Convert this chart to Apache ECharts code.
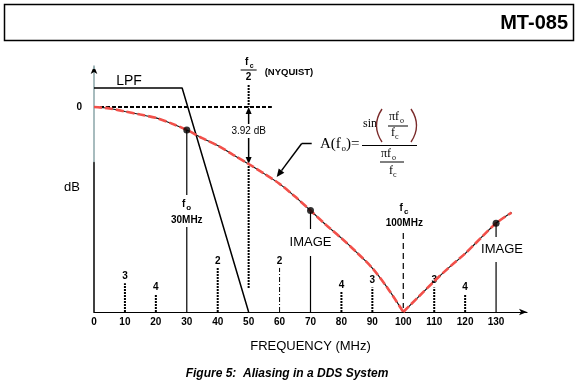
<!DOCTYPE html>
<html><head><meta charset="utf-8">
<script src="https://cdn.jsdelivr.net/npm/echarts@6/dist/echarts.min.js"></script>
<style>html,body{margin:0;padding:0;background:#fff}#c{width:580px;height:387px}</style>
</head><body><div id="c"></div>
<script>
// ---- data ----
const freqTickLabels = ['0','10','20','30','40','50','60','70','80','90','100','110','120','130'];
const curveFreqLeft = [0,5,10,15,20,25,30,35,40,45,50,55,60,65,70,75,80,85,90,95,100];
const curveAmpLeft  = [1.0,0.993,0.978,0.963,0.947,0.92,0.888,0.848,0.812,0.767,0.722,0.675,0.625,0.563,0.495,0.425,0.36,0.29,0.214,0.115,0.0];
const curveFreqRight = [100,105,110,115,120,125,130,135];
const curveAmpRight  = [0.0,0.075,0.15,0.22,0.285,0.36,0.433,0.485];
const lpfFreq = [0, 28.5, 50];
const lpfAmp  = [1.093, 1.093, 0];
const zeroDbFreq = [0, 57.5];
const zeroDbAmp  = [1, 1];
const signalFreq = [30, 70, 130];
const signalAmp  = [0.888, 0.495, 0.433];
const harmonicFreq  = [10, 20, 40, 60, 80, 90, 110, 120];
const harmonicOrder = ['3','4','2','2','4','3','3','4'];
const harmonicAmp   = [0.14, 0.088, 0.215, 0.215, 0.098, 0.12, 0.12, 0.088];
const nyquistFreq = 50;
const clockFreq = 100;

const SANS = '"Liberation Sans", Arial, sans-serif';
const SERIF = '"Liberation Serif", "Times New Roman", serif';
const zip = (a, b) => a.map((v, i) => [v, b[i]]);

const chart = echarts.init(document.getElementById('c'), null, {renderer: 'canvas'});
const option = {
  animation: false,
  backgroundColor: '#fff',
  grid: {left: 94, right: 53, top: 66, bottom: 75, outerBoundsMode: 'none'},
  xAxis: {
    type: 'value', min: 0, max: 140, interval: 10,
    name: 'FREQUENCY (MHz)', nameLocation: 'middle', nameGap: 28,
    nameTextStyle: {fontFamily: SANS, fontSize: 13, color: '#000'},
    axisLine: {show: true, symbol: ['none', 'arrow'], symbolSize: [5, 8], lineStyle: {color: '#000', width: 1.2}},
    axisTick: {show: false}, splitLine: {show: false},
    axisLabel: {
      margin: 5, color: '#000', fontFamily: SANS, fontWeight: 'bold', fontSize: 10,
      formatter: v => { const i = Math.round(v / 10); return i < freqTickLabels.length ? freqTickLabels[i] : ''; }
    }
  },
  yAxis: {
    type: 'value', min: 0, max: 1.2, interval: 0.2,
    axisLine: {show: true, symbol: ['none', 'arrow'], symbolSize: [5, 8],
      lineStyle: {width: 1.5, color: {type: 'linear', x: 0, y: 0, x2: 0, y2: 1,
        colorStops: [{offset: 0, color: '#8aa5a8'}, {offset: 0.39, color: '#8aa5a8'}, {offset: 0.395, color: '#000'}, {offset: 1, color: '#000'}]}}},
    axisTick: {show: false}, splitLine: {show: false},
    axisLabel: {margin: 12, color: '#000', fontFamily: SANS, fontWeight: 'bold', fontSize: 10,
      formatter: v => Math.abs(v - 1) < 1e-6 ? '0' : ''}
  },
  series: [
    {type: 'line', data: zip(zeroDbFreq, zeroDbAmp), symbol: 'none', lineStyle: {color: '#000', width: 2, type: [4, 2]}, z: 2},
    {type: 'line', data: zip(lpfFreq, lpfAmp), symbol: 'none', lineStyle: {color: '#000', width: 1.5}, z: 3},
    {type: 'line', data: zip(curveFreqLeft, curveAmpLeft), symbol: 'none', smooth: 0.3, lineStyle: {color: '#111', width: 1.1}, z: 4},
    {type: 'line', data: zip(curveFreqRight, curveAmpRight), symbol: 'none', smooth: 0.3, lineStyle: {color: '#111', width: 1.1}, z: 4},
    {type: 'line', data: zip(curveFreqLeft, curveAmpLeft), symbol: 'none', smooth: 0.3, lineStyle: {color: '#f2504a', width: 2.6, type: [8, 3]}, z: 5},
    {type: 'line', data: zip(curveFreqRight, curveAmpRight), symbol: 'none', smooth: 0.3, lineStyle: {color: '#f2504a', width: 2.6, type: [8, 3]}, z: 5},
    {type: 'scatter', data: zip(signalFreq, signalAmp), symbol: 'circle', symbolSize: 7, itemStyle: {color: '#000'}, z: 6},
    {type: 'custom', data: zip(harmonicFreq, harmonicAmp), z: 3,
      renderItem(params, api) {
        const i = params.dataIndex;
        const base = api.coord([api.value(0), 0]);
        const top = api.coord([api.value(0), api.value(1)]);
        const dashDot = i === 3;
        return {type: 'group', children: [
          {type: 'line', shape: {x1: base[0], y1: base[1], x2: top[0], y2: top[1]},
            style: {stroke: '#000', lineWidth: dashDot ? 1 : 2, lineDash: dashDot ? [5, 2, 1, 2] : [2, 1]}},
          {type: 'text', x: top[0], y: top[1] - 7,
            style: {text: harmonicOrder[i], font: 'bold 10px ' + SANS, fill: '#000', align: 'center', verticalAlign: 'middle'}}
        ]};
      }}
  ]
};
chart.setOption(option);

// ---- annotations positioned through the chart's own scales ----
const P = (x, y) => chart.convertToPixel({gridIndex: 0}, [x, y]);
const baseY = P(0, 0)[1];
const g = [];
const txt = (text, x, y, font, align, fill) => g.push({type: 'text', x, y, silent: true,
  style: {text, font, fill: fill || '#000', align: align || 'center', verticalAlign: 'middle'}});
const seg = (x1, y1, x2, y2, w, dash, color) => g.push({type: 'line', silent: true,
  shape: {x1, y1, x2, y2}, style: {stroke: color || '#000', lineWidth: w, lineDash: dash || null}});
const tri = (pts) => g.push({type: 'polygon', silent: true, shape: {points: pts}, style: {fill: '#000'}});
const curve = (x1, y1, cpx1, cpy1, x2, y2, color) => g.push({type: 'bezierCurve', silent: true,
  shape: {x1, y1, x2, y2, cpx1, cpy1}, style: {stroke: color, lineWidth: 1.4, fill: null}});

// header box
g.push({type: 'rect', silent: true, shape: {x: 4.5, y: 4.5, width: 569, height: 36}, style: {fill: 'none', stroke: '#000', lineWidth: 1.5}});
txt('MT-085', 568, 23, 'bold 20px ' + SANS, 'right');

// axis captions
txt('dB', 72, 187, '13px ' + SANS);
txt('LPF', 129, 81, '14px ' + SANS);
txt('Figure 5:  Aliasing in a DDS System', 287, 374, 'italic bold 12px ' + SANS);

// nyquist
const nx = P(nyquistFreq, 0)[0];
const y0 = P(0, 1)[1];
const yN = P(nyquistFreq, curveAmpLeft[curveFreqLeft.indexOf(nyquistFreq)])[1];
txt('f', nx - 2, 62, 'bold 10px ' + SANS);
txt('c', nx + 3, 66, 'bold 7px ' + SANS);
seg(nx - 8, 70, nx + 8, 70, 1);
txt('2', nx, 77, 'bold 10px ' + SANS);
txt('(NYQUIST)', nx + 16, 72, 'bold 9.5px ' + SANS, 'left');
seg(nx, 85, nx, y0, 2, [2, 1]);
tri([[nx, y0], [nx - 3, y0 + 7], [nx + 3, y0 + 7]]);
seg(nx, y0 + 7, nx, 124, 1.5);
txt('3.92 dB', nx, 131, '10px ' + SANS);
seg(nx, 138, nx, yN - 7, 1.5);
tri([[nx, yN], [nx - 3, yN - 7], [nx + 3, yN - 7]]);
seg(nx, yN + 2, nx, 288, 2, [2, 1]);

// fo marker
let p = P(signalFreq[0], signalAmp[0]);
seg(p[0], p[1], p[0], 195, 1.2);
txt('f', p[0] - 3, 204, 'bold 10px ' + SANS);
txt('o', p[0] + 2, 208, 'bold 8px ' + SANS);
txt('30MHz', p[0], 220, 'bold 10px ' + SANS);
seg(p[0], 227, p[0], baseY, 1.2);
// image 1
p = P(signalFreq[1], signalAmp[1]);
seg(p[0], p[1], p[0], 229, 1.2);
txt('IMAGE', p[0], 242, '13px ' + SANS);
seg(p[0], 256, p[0], baseY, 1.2);
// image 2
p = P(signalFreq[2], signalAmp[2]);
seg(p[0], p[1], p[0], 237, 1.2);
txt('IMAGE', p[0] + 6, 249, '13px ' + SANS);
seg(p[0], 262, p[0], baseY, 1.2);
// fc marker
const cx = P(clockFreq, 0)[0];
txt('f', cx - 2, 208, 'bold 10px ' + SANS);
txt('c', cx + 3, 212, 'bold 8px ' + SANS);
txt('100MHz', cx + 1, 223, 'bold 10px ' + SANS);
seg(cx, 233, cx, baseY - 4, 1.2, [6, 4]);

// formula pointer
seg(311.7, 143.5, 301.7, 143.5, 1.5);
seg(301.7, 143.5, 281.5, 170.6, 1.5);
tri([[276.7, 177], [284.3, 172.7], [278.7, 168.5]]);

// formula
txt('A(f', 320, 144, '15px ' + SERIF, 'left');
txt('o', 341.5, 148.5, '9px ' + SERIF, 'left');
txt(')', 346, 144, '15px ' + SERIF, 'left');
txt('=', 351, 144, '15px ' + SERIF, 'left');
seg(362, 145.5, 417, 145.5, 1);
txt('sin', 363, 124, '12px ' + SERIF, 'left');
curve(382, 109, 371, 125.5, 382, 142, '#7a2a2a');
curve(411, 109, 422, 125.5, 411, 142, '#7a2a2a');
txt('\u03c0f', 389, 117, '12px ' + SERIF, 'left');
txt('o', 400, 121, '8px ' + SERIF, 'left');
seg(388, 126, 408, 126, 1);
txt('f', 391, 133, '12px ' + SERIF, 'left');
txt('c', 395, 137, '8px ' + SERIF, 'left');
txt('\u03c0f', 381, 154, '12px ' + SERIF, 'left');
txt('o', 392, 158, '8px ' + SERIF, 'left');
seg(380, 162, 404, 162, 1);
txt('f', 389, 171, '12px ' + SERIF, 'left');
txt('c', 393, 175, '8px ' + SERIF, 'left');

chart.setOption({graphic: {elements: g}});
</script>
</body></html>
